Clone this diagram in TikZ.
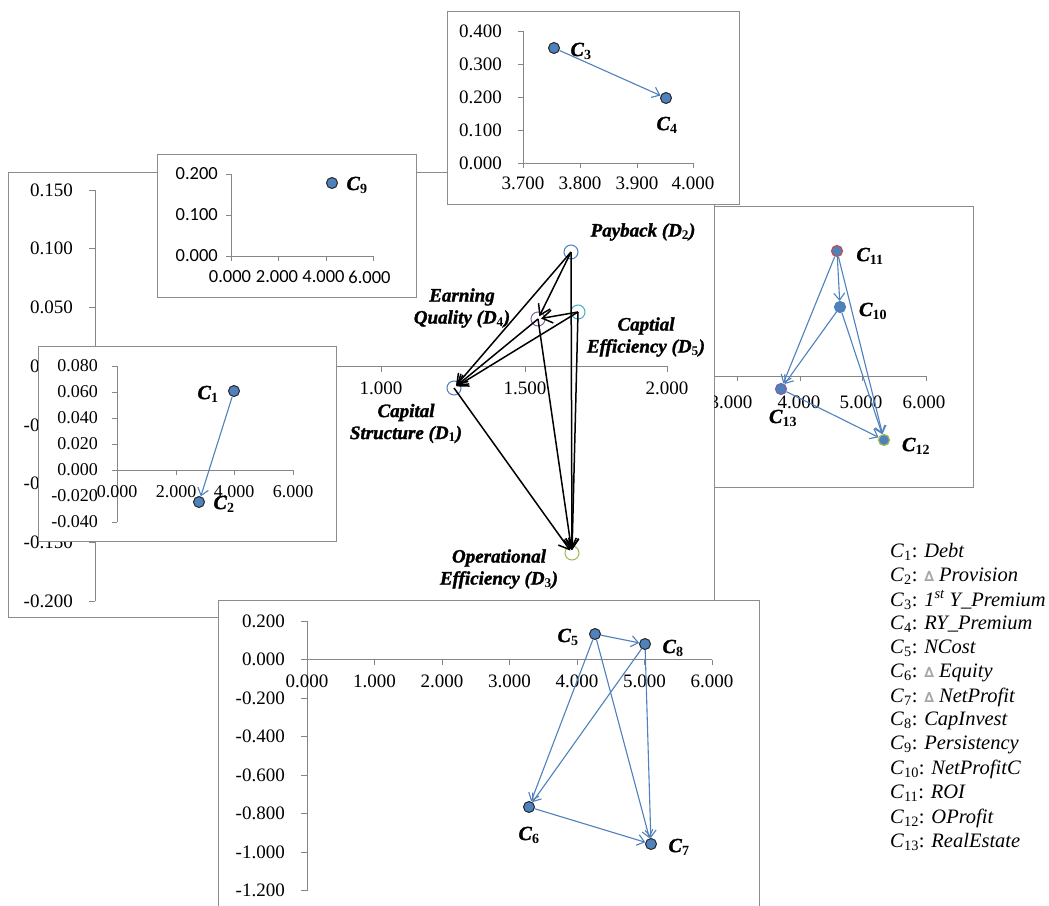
\documentclass[tikz,border=0pt]{standalone}
\usepackage{fontspec}
\setmainfont{Liberation Serif}[BoldFont={Liberation Serif Bold}, ItalicFont={Liberation Serif Italic}, BoldItalicFont={Liberation Serif Bold Italic}, BoldItalicFeatures={FakeBold=1.5}]
\newfontfamily\carl{Carlito}
\newfontfamily\dejavu{DejaVu Sans}
\usetikzlibrary{arrows.meta}
\definecolor{ptblue}{HTML}{4F81BD}
\definecolor{framegray}{HTML}{8C8C8C}
\definecolor{axisgray}{HTML}{868686}
\definecolor{dcyan}{HTML}{4BACC6}
\definecolor{dpurple}{HTML}{8064A2}
\definecolor{dgreen}{HTML}{9BBB59}
\definecolor{dred}{HTML}{C0504D}
\tikzset{
  chartbox/.style={draw=framegray, fill=white, line width=1pt},
  axisline/.style={draw=axisgray, line width=1pt},
  ticklab/.style={font=\fontsize{19}{21}\selectfont, inner sep=0pt},
  smalllab/.style={font=\fontsize{18}{20}\selectfont, inner sep=0pt},
  sanslab/.style={font=\carl\fontsize{18.5}{21}\selectfont, inner sep=0pt},
  cpoint/.style={circle, fill=ptblue, draw=black!85, line width=1pt, minimum size=11pt, inner sep=0pt},
  rpoint/.style={circle, fill=ptblue, draw=#1, line width=1.2pt, minimum size=11pt, inner sep=0pt},
  dcirc/.style={circle, draw=#1, line width=1pt, minimum size=14pt, inner sep=0pt},
  clab/.style={font=\fontsize{20}{22}\selectfont\bfseries\itshape, inner sep=0pt},
  dlab/.style={font=\fontsize{19}{22}\selectfont\bfseries\itshape, align=center, inner sep=0pt},
  carr/.style={draw=ptblue, line width=1.1pt, -{Straight Barb[length=7pt,width=11pt]}},
  darr/.style={draw=black, line width=1.5pt, -{Straight Barb[length=10pt,width=13pt]}, shorten >=3pt},
  leglab/.style={font=\fontsize{20.5}{23}\selectfont, anchor=west, inner sep=0pt}
}
\newcommand{\tri}{{\dejavu\bfseries\fontsize{14}{14}\selectfont\color{gray!70}∆}}
\newcommand{\sbx}[1]{\textup{\textsubscript{#1}}}
\begin{document}
\begin{tikzpicture}[x=1pt,y=-1pt]
\useasboundingbox (0,0) rectangle (1049,905);
\fill[white] (0,0) rectangle (1049,905);

% ---------------- main chart ----------------
\path[chartbox] (8,172) rectangle (714,617);
\draw[axisline] (95,190) -- (95,601);
\foreach \v/\y [count=\i] in {0.150/190,0.100/248.7,0.050/307.4,0.000/366.1,-0.050/424.9,-0.100/483.6,-0.150/542.3,-0.200/601}{
  \draw[axisline] (89,\y) -- (95,\y);
  \node[ticklab, anchor=east] (mly\i) at (73,\y) {\v};
}
\draw[axisline] (95,366) -- (667,366);
\foreach \v/\x [count=\i] in {0.000/95,0.500/238,1.000/381,1.500/525,2.000/667}{
  \draw[axisline] (\x,366) -- (\x,372);
  \node[ticklab] (mlx\i) at (\x,388) {\v};
}
\node[dcirc=ptblue] (D2) at (571,252) {};
\node[dcirc=dcyan] (D5) at (578,312) {};
\node[dcirc=dpurple] (D4) at (538,319) {};
\node[dcirc=ptblue] (D1) at (454,388) {};
\node[dcirc=dgreen] (D3) at (572,553) {};
\draw[darr] (D2.center) -- (D1.center);
\draw[darr] (D2.center) -- (D4.center);
\draw[darr] (D2.center) -- (D3.center);
\draw[darr] (D5.center) -- (D4.center);
\draw[darr] (D5.center) -- (D1.center);
\draw[darr] (D5.center) -- (D3.center);
\draw[darr] (D4.center) -- (D1.center);
\draw[darr] (D4.center) -- (D3.center);
\draw[darr] (D1.center) -- (D3.center);
\node[dlab] (LD2) at (643,232) {Payback (D\sbx{2})};
\node[dlab] (LD4) at (462,308) {Earning\\Quality (D\sbx{4})};
\node[dlab] (LD5) at (646,337) {Captial\\Efficiency (D\sbx{5})};
\node[dlab] (LD1) at (406,423.5) {Capital\\Structure (D\sbx{1})};
\node[dlab] (LD3) at (499,569) {Operational\\Efficiency (D\sbx{3})};

% ---------------- C9 chart ----------------
\path[chartbox] (157,154) rectangle (416,297);
\draw[axisline] (231,174) -- (231,256);
\foreach \v/\y [count=\i] in {0.200/174,0.100/215,0.000/256}{
  \draw[axisline] (226,\y) -- (231,\y);
  \node[sanslab, anchor=east] (sly\i) at (218,\y) {\v};
}
\draw[axisline] (231,256) -- (373,256);
\foreach \v/\x [count=\i] in {0.000/230,2.000/277,4.000/323.5,6.000/369.5}{
  \node[sanslab] (slx\i) at (\x,277) {\v};
}
\foreach \x in {231,278,326,373}{
  \draw[axisline] (\x,256) -- (\x,261);
}
\node[cpoint] (C9) at (332,183) {};
\node[clab] (LC9) at (357,185) {C\sbx{9}};

% ---------------- C3/C4 chart ----------------
\path[chartbox] (447,11) rectangle (739,204);
\draw[axisline] (523,31) -- (523,163);
\foreach \v/\y [count=\i] in {0.400/31,0.300/64,0.200/97,0.100/130,0.000/163}{
  \draw[axisline] (518,\y) -- (523,\y);
  \node[ticklab, anchor=east] (tly\i) at (502,\y) {\v};
}
\draw[axisline] (523,163) -- (693,163);
\foreach \v/\x [count=\i] in {3.700/523,3.800/580,3.900/637,4.000/693}{
  \draw[axisline] (\x,163) -- (\x,168);
  \node[ticklab] (tlx\i) at (\x,183) {\v};
}
\node[cpoint] (C3) at (554,48) {};
\node[cpoint] (C4) at (666,98) {};
\draw[carr] (C3) -- (C4);
\node[clab] (LC3) at (581,51) {C\sbx{3}};
\node[clab] (LC4) at (667,125) {C\sbx{4}};

% ---------------- C1/C2 chart ----------------
\path[chartbox] (38,346) rectangle (336,541);
\draw[axisline] (117,366) -- (117,522);
\foreach \v/\y [count=\i] in {0.080/366,0.060/392,0.040/418,0.020/444,0.000/470,-0.020/496,-0.040/522}{
  \draw[axisline] (112,\y) -- (117,\y);
  \node[smalllab, anchor=east] (aly\i) at (98,\y) {\v};
}
\draw[axisline] (117,470) -- (293,470);
\foreach \v/\x [count=\i] in {0.000/117,2.000/176,4.000/234,6.000/293}{
  \draw[axisline] (\x,470) -- (\x,475);
  \node[smalllab] (alx\i) at (\x,492) {\v};
}
\node[cpoint] (C1) at (234,391) {};
\node[cpoint] (C2) at (199,502) {};
\draw[carr] (C1) -- (C2);
\node[clab] (LC1) at (208,394) {C\sbx{1}};
\node[clab] (LC2) at (224,504) {C\sbx{2}};

% ---------------- C10-C13 chart ----------------
\path[chartbox] (714,206) rectangle (973,487);
\begin{scope}
\clip (714.5,206.5) rectangle (972.5,486.5);
\draw[axisline] (714,376) -- (926,376);
\foreach \x in {737,800,862,926}{
  \draw[axisline] (\x,376) -- (\x,381);
}
\foreach \v/\x [count=\i] in {3.000/731,4.000/799,5.000/861,6.000/924}{
  \node[ticklab] (rlx\i) at (\x,402) {\v};
}
\end{scope}
\node[rpoint=dred] (C11) at (837,251) {};
\node[rpoint=ptblue] (C10) at (840,307) {};
\node[rpoint=dpurple] (C13) at (781,389) {};
\node[rpoint=dgreen] (C12) at (884,440) {};
\draw[carr] (C11) -- (C10);
\draw[carr] (C11) -- (C13);
\draw[carr] (C11) -- (C12);
\draw[carr] (C10) -- (C13);
\draw[carr] (C10) -- (C12);
\draw[carr] (C13) -- (C12);
\node[clab] (LC11) at (870,256) {C\sbx{11}};
\node[clab] (LC10) at (873,311) {C\sbx{10}};
\node[clab] (LC13) at (783,418) {C\sbx{13}};
\node[clab] (LC12) at (916,446) {C\sbx{12}};

% ---------------- C5-C8 chart ----------------
\fill[white] (218,600) rectangle (759,912);
\draw[draw=framegray, line width=1pt] (218,912) -- (218,600) -- (759,600) -- (759,912);
\draw[axisline] (307,621) -- (307,890.5);
\foreach \v/\y [count=\i] in {0.200/621,0.000/659.5,-0.200/698,-0.400/736.5,-0.600/775,-0.800/813.5,-1.000/852,-1.200/890.5}{
  \draw[axisline] (301,\y) -- (307,\y);
  \node[ticklab, anchor=east] (bly\i) at (285,\y) {\v};
}
\draw[axisline] (307,659.5) -- (712,659.5);
\foreach \v/\x [count=\i] in {0.000/307,1.000/374.5,2.000/442,3.000/509.5,4.000/577,5.000/644.5,6.000/712}{
  \draw[axisline] (\x,659.5) -- (\x,665);
  \node[ticklab] (blx\i) at (\x,681) {\v};
}
\node[cpoint] (C5) at (595,634) {};
\node[cpoint] (C8) at (645,644) {};
\node[cpoint] (C6) at (529,807) {};
\node[cpoint] (C7) at (651,844) {};
\draw[carr] (C5) -- (C8);
\draw[carr] (C5) -- (C6);
\draw[carr] (C5) -- (C7);
\draw[carr] (C8) -- (C6);
\draw[carr] (C8) -- (C7);
\draw[carr] (C6) -- (C7);
\node[clab] (LC5) at (568,637) {C\sbx{5}};
\node[clab] (LC8) at (673,648) {C\sbx{8}};
\node[clab] (LC6) at (529,835) {C\sbx{6}};
\node[clab] (LC7) at (679,847) {C\sbx{7}};

% ---------------- legend ----------------
\node[leglab] (g1) at (890,552) {\textit{C}\textsubscript{1}: \textit{Debt}};
\node[leglab] (g2) at (890,576) {\textit{C}\textsubscript{2}: \tri\ \textit{Provision}};
\node[leglab] (g3) at (890,600) {\textit{C}\textsubscript{3}: \textit{1\textsuperscript{st} Y\_Premium}};
\node[leglab] (g4) at (890,624.5) {\textit{C}\textsubscript{4}: \textit{RY\_Premium}};
\node[leglab] (g5) at (890,648.5) {\textit{C}\textsubscript{5}: \textit{NCost}};
\node[leglab] (g6) at (890,672.5) {\textit{C}\textsubscript{6}: \tri\ \textit{Equity}};
\node[leglab] (g7) at (890,697) {\textit{C}\textsubscript{7}: \tri\ \textit{NetProfit}};
\node[leglab] (g8) at (890,721) {\textit{C}\textsubscript{8}: \textit{CapInvest}};
\node[leglab] (g9) at (890,745) {\textit{C}\textsubscript{9}: \textit{Persistency}};
\node[leglab] (g10) at (890,769.5) {\textit{C}\textsubscript{10}: \textit{NetProfitC}};
\node[leglab] (g11) at (890,793.5) {\textit{C}\textsubscript{11}: \textit{ROI}};
\node[leglab] (g12) at (890,818) {\textit{C}\textsubscript{12}: \textit{OProfit}};
\node[leglab] (g13) at (890,842) {\textit{C}\textsubscript{13}: \textit{RealEstate}};
\end{tikzpicture}
\end{document}
